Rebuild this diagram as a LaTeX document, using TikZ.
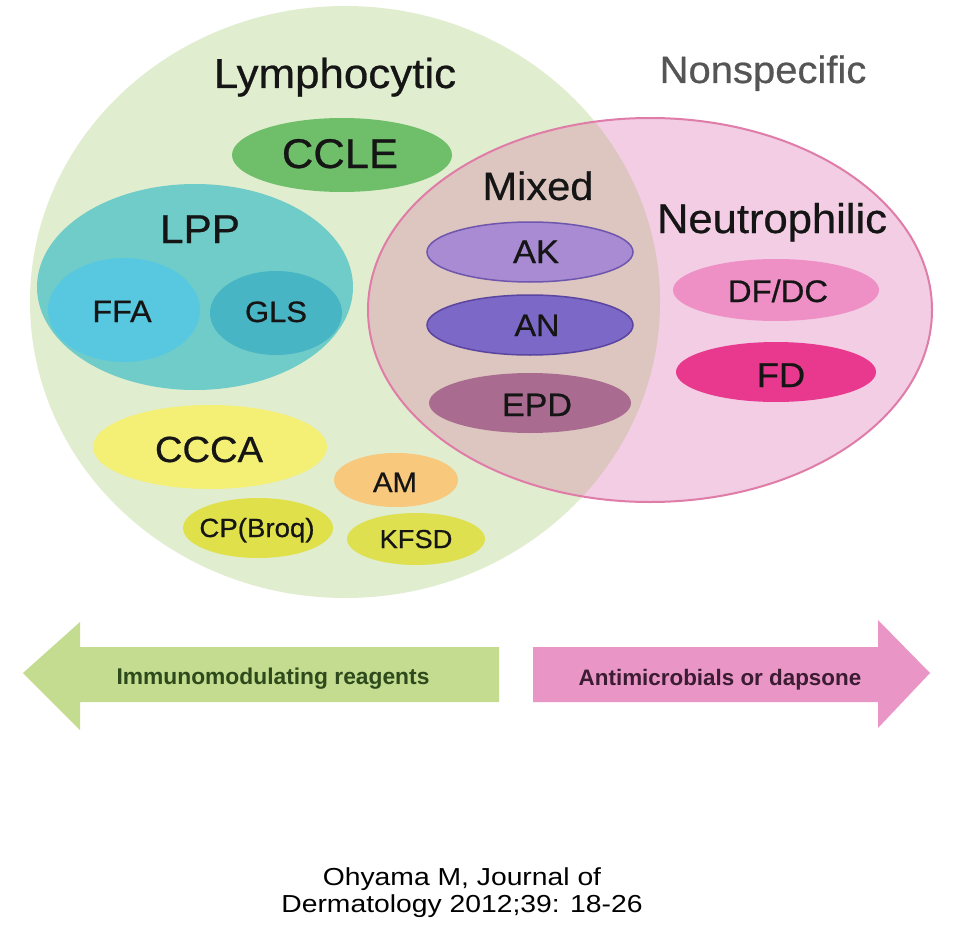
\documentclass[tikz,border=0pt]{standalone}
\usepackage{fontspec}
\setmainfont[FakeStretch=1.05, FakeBold=0.6]{Liberation Sans}
\newfontfamily\arrowf{Liberation Sans}
\newfontfamily\citef[FakeStretch=1.15]{Liberation Sans}
\usetikzlibrary{shapes.geometric}
\newcommand\fsz[1]{\fontsize{#1}{#1}\selectfont}
\definecolor{lymgreen}{HTML}{E1EDCF}
\definecolor{neupink}{HTML}{F2CDE3}
\definecolor{mixtan}{HTML}{DDC5C0}
\definecolor{neuedge}{HTML}{E07CA8}
\definecolor{cclegreen}{HTML}{6FBE6A}
\definecolor{lppteal}{HTML}{70CCC8}
\definecolor{ffacyan}{HTML}{58C8E0}
\definecolor{glsteal}{HTML}{48B5C5}
\definecolor{akfill}{HTML}{A88BD2}
\definecolor{akedge}{HTML}{6E55AE}
\definecolor{anfill}{HTML}{7C68C6}
\definecolor{anedge}{HTML}{5A45A0}
\definecolor{epdfill}{HTML}{A96C90}
\definecolor{dfdcfill}{HTML}{EE90C6}
\definecolor{fdfill}{HTML}{E8398E}
\definecolor{cccafill}{HTML}{F4EF75}
\definecolor{amfill}{HTML}{F8C87D}
\definecolor{cpfill}{HTML}{E0E14A}
\definecolor{kfsdfill}{HTML}{DEE050}
\definecolor{larrow}{HTML}{C3DC8F}
\definecolor{rarrow}{HTML}{E996C7}
\definecolor{ltext}{HTML}{2E4A1C}
\definecolor{rtext}{HTML}{3B1C33}
\definecolor{txt}{HTML}{151515}
\definecolor{graytxt}{HTML}{555555}
\begin{document}
\begin{tikzpicture}[x=1pt,y=-1pt,
  blob/.style={ellipse, inner sep=0pt, draw=none},
  lbl/.style={anchor=base, inner sep=0pt, text=txt}]
\useasboundingbox (0,0) rectangle (960,928);
\fill[white] (0,0) rectangle (960,928);
% big regions
\node[blob, fill=lymgreen, minimum width=630, minimum height=592] (lym) at (345,302) {};
\node[blob, fill=neupink, minimum width=564, minimum height=384] (neu) at (650,310) {};
\begin{scope}
  \clip (lym.center) ellipse [x radius=315, y radius=296];
  \fill[mixtan] (neu.center) ellipse [x radius=282, y radius=192];
\end{scope}
\draw[neuedge, line width=2] (neu.center) ellipse [x radius=282, y radius=192];
% headings
\node[lbl, font=\fsz{41.8}] (lymt) at (335,88) {Lymphocytic};
\node[lbl, font=\fsz{38.1}, text=graytxt] (nons) at (763,83) {Nonspecific};
\node[lbl, font=\fsz{39.6}] (mixt) at (538,200) {Mixed};
\node[lbl, font=\fsz{41.5}] (neut) at (772,233) {Neutrophilic};
% lymphocytic members
\node[blob, fill=cclegreen, minimum width=220, minimum height=74] (ccle) at (342,155) {};
\node[lbl, font=\fsz{41.5}] at (340,168) {CCLE};
\node[blob, fill=lppteal, minimum width=316, minimum height=206] (lpp) at (195,287) {};
\node[lbl, font=\fsz{40.3}] at (200,243) {LPP};
\node[blob, fill=ffacyan, minimum width=152, minimum height=104] (ffa) at (124,310) {};
\node[lbl, font=\fsz{30.8}] at (122,322) {FFA};
\node[blob, fill=glsteal, minimum width=132, minimum height=84] (gls) at (276,313) {};
\node[lbl, font=\fsz{29.5}] at (276,322) {GLS};
\node[blob, fill=cccafill, minimum width=234, minimum height=84] (ccca) at (210,447) {};
\node[lbl, font=\fsz{36.3}] at (209,462) {CCCA};
\node[blob, fill=amfill, minimum width=124, minimum height=54] (am) at (396,480) {};
\node[lbl, font=\fsz{28}] at (395,492) {AM};
\node[blob, fill=cpfill, minimum width=150, minimum height=60] (cp) at (258,528) {};
\node[lbl, font=\fsz{26.3}] at (257,537) {CP(Broq)};
\node[blob, fill=kfsdfill, minimum width=138, minimum height=52] (kfsd) at (416,539) {};
\node[lbl, font=\fsz{26}] at (416,548) {KFSD};
% mixed members
\node[blob, fill=akfill, draw=akedge, line width=1.5, minimum width=206, minimum height=60] (ak) at (530,252) {};
\node[lbl, font=\fsz{32.8}] at (536,263) {AK};
\node[blob, fill=anfill, draw=anedge, line width=1.5, minimum width=206, minimum height=60] (an) at (530,325) {};
\node[lbl, font=\fsz{30.9}] at (537,336) {AN};
\node[blob, fill=epdfill, minimum width=202, minimum height=60] (epd) at (530,403) {};
\node[lbl, font=\fsz{32.4}] at (537,416) {EPD};
% neutrophilic members
\node[blob, fill=dfdcfill, minimum width=206, minimum height=62] (dfdc) at (776,290) {};
\node[lbl, font=\fsz{31.2}] at (778,302) {DF/DC};
\node[blob, fill=fdfill, minimum width=200, minimum height=60] (fd) at (776,372) {};
\node[lbl, font=\fsz{34.5}] at (781,387) {FD};
% arrows
\fill[larrow] (23,673) -- (80,622) -- (80,647) -- (499,647) -- (499,702) -- (80,702) -- (80,730) -- cycle;
\fill[rarrow] (533,647) -- (878,647) -- (878,620) -- (930,673) -- (878,728) -- (878,702) -- (533,702) -- cycle;
\node[lbl, font=\arrowf\bfseries\fsz{22.8}, text=ltext] (imm) at (273,684) {Immunomodulating reagents};
\node[lbl, font=\arrowf\bfseries\fsz{22.4}, text=rtext] (anti) at (720,685) {Antimicrobials or dapsone};
% citation
\node[lbl, font=\citef\fsz{24.6}, text=black] (cit1) at (462,885) {Ohyama M, Journal of};
\node[lbl, font=\citef\fsz{24.6}, text=black] (cit2) at (462,912) {Dermatology 2012;39: 18-26};
\end{tikzpicture}
\end{document}
